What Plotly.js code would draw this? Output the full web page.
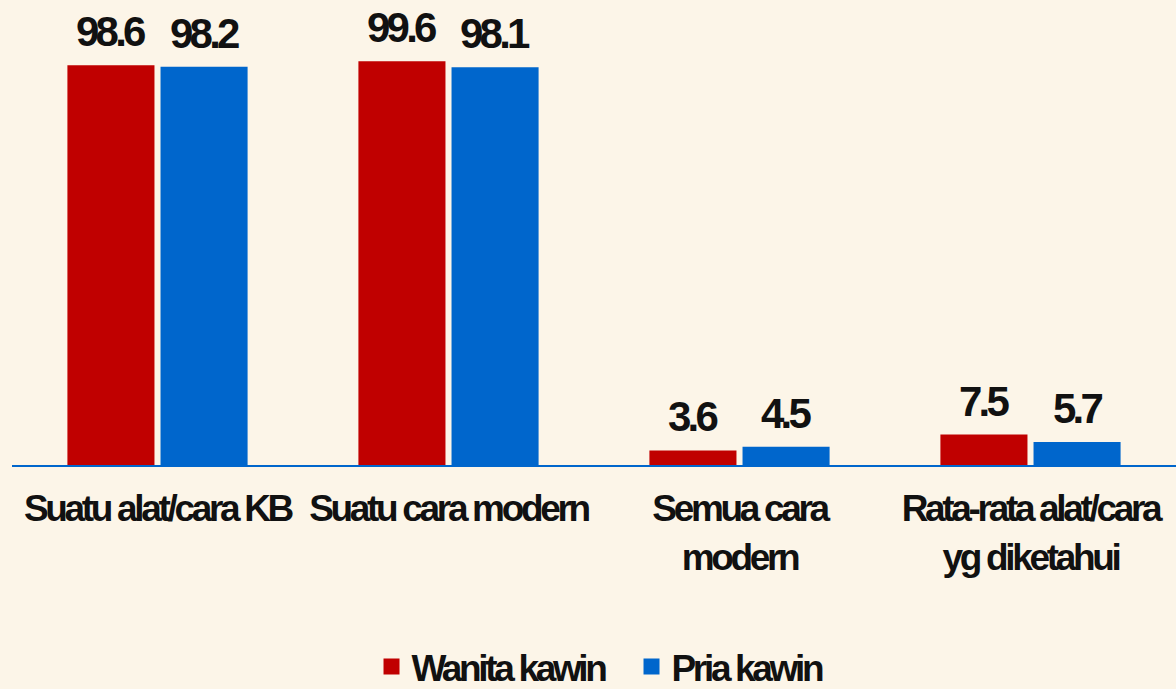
<!DOCTYPE html>
<html>
<head>
<meta charset="utf-8">
<script src="https://cdn.plot.ly/plotly-3.0.1.min.js"></script>
<style>
html,body{margin:0;padding:0;background:#FCF5E8;}
#chart{width:1176px;height:689px;}
svg text{letter-spacing:-0.09em;}
</style>
</head>
<body>
<div id="chart"></div>
<script>
const categories = ["Suatu alat/cara KB", "Suatu cara modern", "Semua cara<br>modern", "Rata-rata alat/cara<br>yg diketahui"];
const seriesNames = ["Wanita kawin", "Pria kawin"];
const wanita = [98.6, 99.6, 3.6, 7.5];
const pria = [98.2, 98.1, 4.5, 5.7];

const FONT = "'Liberation Sans', Arial, sans-serif";
const colors = ["#C00000", "#0066CC"];
const W = 1176, H = 689;
const margin = {l: 12, r: 0, t: 19, b: 224};
const bargap = 0.36, bargroupgap = 0.065;
const catWidth = (W - margin.l - margin.r) / categories.length;
const slot = catWidth * (1 - bargap) / 2;

function barTrace(name, vals, color) {
  return {
    type: "bar",
    name: name,
    x: categories,
    y: vals,
    marker: {color: color},
    showlegend: false,
    hoverinfo: "skip"
  };
}
function legendTrace(name, color) {
  return {
    type: "scatter",
    mode: "markers",
    name: name,
    x: [null],
    y: [null],
    marker: {symbol: "square", size: 16, color: color},
    showlegend: true,
    hoverinfo: "skip"
  };
}

const seriesVals = [wanita, pria];
const data = [
  barTrace(seriesNames[0], wanita, colors[0]),
  barTrace(seriesNames[1], pria, colors[1]),
  legendTrace(seriesNames[0], colors[0]),
  legendTrace(seriesNames[1], colors[1])
];

const annotations = [];
seriesVals.forEach((vals, i) => {
  vals.forEach((v, j) => {
    annotations.push({
      x: categories[j], y: v, xref: "x", yref: "y",
      text: v.toFixed(1),
      showarrow: false,
      xanchor: "center", yanchor: "bottom",
      xshift: (i === 0 ? -1 : 1) * slot / 2,
      yshift: 8,
      font: {family: FONT, size: 42, color: "#111111", weight: "bold"}
    });
  });
});

const layout = {
  width: W,
  height: H,
  paper_bgcolor: "#FCF5E8",
  plot_bgcolor: "#FCF5E8",
  margin: margin,
  barmode: "group",
  bargap: bargap,
  bargroupgap: bargroupgap,
  font: {family: FONT, color: "#111111"},
  annotations: annotations,
  xaxis: {
    showline: true,
    linecolor: "#0066CC",
    linewidth: 2,
    showgrid: false,
    ticks: "",
    tickangle: 0,
    tickfont: {family: FONT, size: 37, color: "#111111", weight: "bold"},
    ticklabelstandoff: 10,
    fixedrange: true
  },
  yaxis: {
    range: [0, 110],
    visible: false,
    showgrid: false,
    zeroline: false,
    fixedrange: true
  },
  showlegend: true,
  legend: {
    orientation: "h",
    xref: "container",
    yref: "container",
    x: 0.537,
    xanchor: "center",
    y: 0.032,
    yanchor: "middle",
    entrywidth: 215,
    entrywidthmode: "pixels",
    font: {family: FONT, size: 37, color: "#111111", weight: "bold"},
    bgcolor: "rgba(0,0,0,0)"
  }
};

Plotly.newPlot("chart", data, layout, {displayModeBar: false, staticPlot: true});
</script>
</body>
</html>
